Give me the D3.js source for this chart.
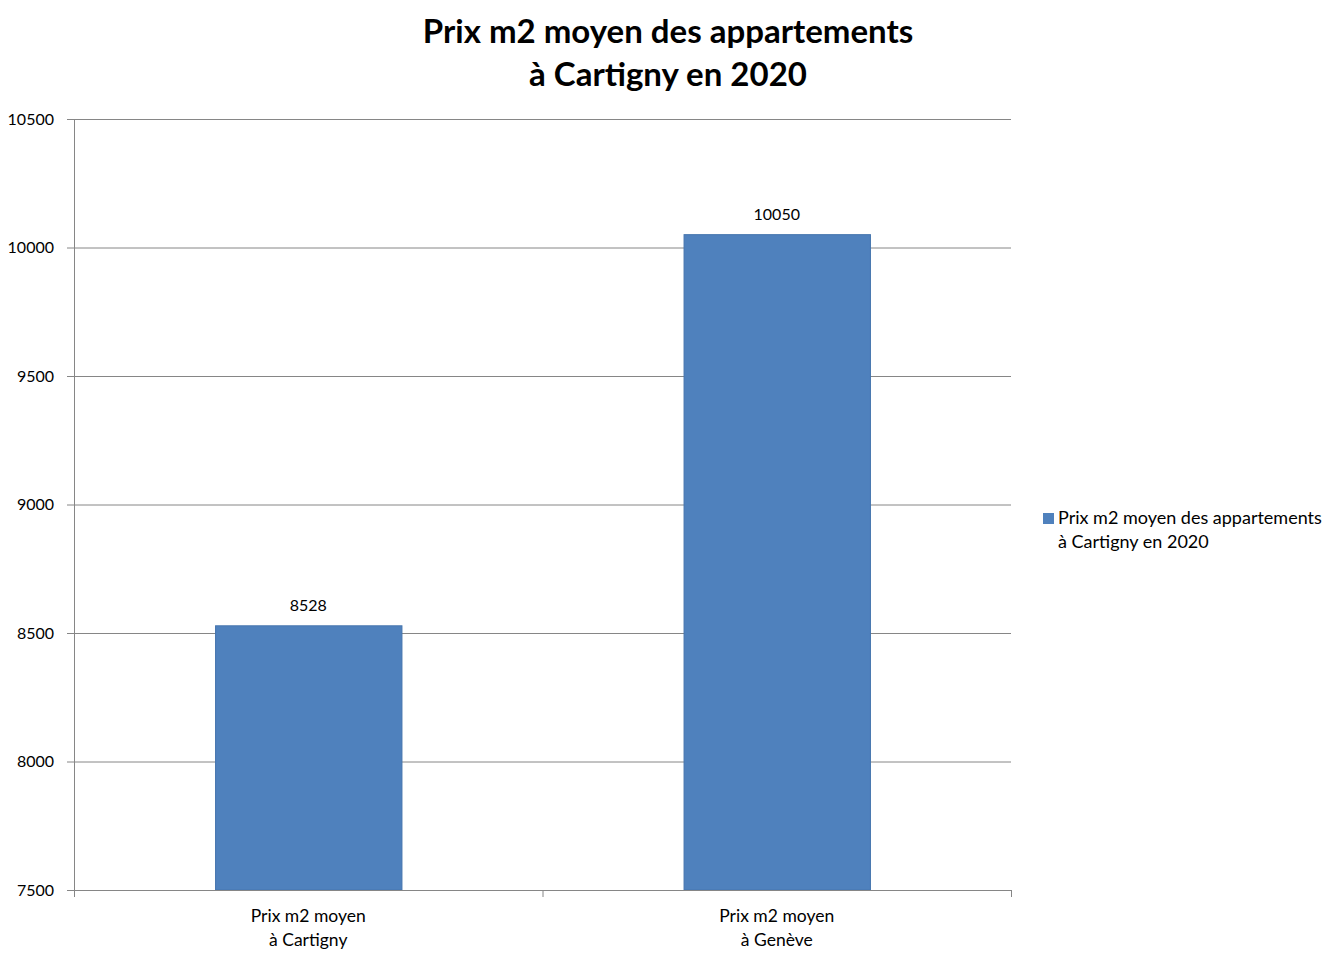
<!DOCTYPE html>
<html><head><meta charset="utf-8">
<script src="https://cdn.jsdelivr.net/npm/d3@7/dist/d3.min.js"></script>
<style>body{margin:0;background:#fff}svg{display:block}text{font-family:Lato,"Open Sans",sans-serif}</style>
</head><body><svg id="c" width="1338" height="961"></svg>
<script>
const categories = [["Prix m2 moyen","à Cartigny"],["Prix m2 moyen","à Genève"]];
const values = [8528, 10050];
const yTicks = [7500, 8000, 8500, 9000, 9500, 10000, 10500];
const titleLines = ["Prix m2 moyen des appartements","à Cartigny en 2020"];
const legendLines = ["Prix m2 moyen des appartements","à Cartigny en 2020"];

const svg = d3.select("#c");
const L=74,R=1011,T=119,B=890;
const x = d3.scaleBand().domain(d3.range(values.length)).range([L,R]).paddingInner(0.6).paddingOuter(0.3);
const y = d3.scaleLinear().domain([7500,10500]).range([B,T]);
const grey="#868686";

svg.append("g").selectAll("line").data(yTicks).join("line")
  .attr("x1",L-7).attr("x2",R).attr("y1",d=>y(d)+0.5).attr("y2",d=>y(d)+0.5)
  .attr("stroke",grey).attr("stroke-width",1);
svg.append("g").selectAll("text").data(yTicks).join("text")
  .attr("x",54).attr("y",d=>y(d)).attr("dy","0.35em").attr("text-anchor","end")
  .attr("font-size",16).attr("fill","#000").text(d=>d);

svg.append("g").selectAll("rect").data(values).join("rect")
  .attr("x",(d,i)=>x(i)+1).attr("width",x.bandwidth()-1).attr("y",d=>y(d)).attr("height",d=>B-y(d))
  .attr("fill","#4F81BD").attr("stroke","#4675AE").attr("stroke-width",1);

svg.append("line").attr("x1",L+0.5).attr("x2",L+0.5).attr("y1",T).attr("y2",B).attr("stroke",grey);
svg.append("line").attr("x1",L).attr("x2",R).attr("y1",B+0.5).attr("y2",B+0.5).attr("stroke",grey);
const step=(R-L)/values.length;
svg.append("g").selectAll("line").data(d3.range(values.length+1)).join("line")
  .attr("x1",i=>L+i*step+0.5).attr("x2",i=>L+i*step+0.5).attr("y1",B).attr("y2",B+7).attr("stroke",grey);

svg.append("g").selectAll("text").data(values).join("text")
  .attr("x",(d,i)=>x(i)+x.bandwidth()/2).attr("y",d=>y(d)-20).attr("dy","0.35em")
  .attr("text-anchor","middle").attr("font-size",16).text(d=>d);

const cat = svg.append("g").selectAll("text").data(categories).join("text")
  .attr("text-anchor","middle").attr("font-size",17.5);
cat.selectAll("tspan").data((d,i)=>d.map(t=>({t,i}))).join("tspan")
  .attr("x",d=>x(d.i)+x.bandwidth()/2).attr("y",(d,j)=>916+j*24).attr("dy","0.35em").text(d=>d.t);

svg.append("g").selectAll("text").data(titleLines).join("text")
  .attr("x",668).attr("y",(d,i)=>31+i*43).attr("dy","0.35em").attr("text-anchor","middle")
  .attr("font-size",33).attr("font-weight","bold").text(d=>d);

svg.append("rect").attr("x",1043).attr("y",513).attr("width",11).attr("height",11).attr("fill","#4F81BD");
svg.append("g").selectAll("text").data(legendLines).join("text")
  .attr("x",1058).attr("y",(d,i)=>518+i*24).attr("dy","0.35em").attr("font-size",18).text(d=>d);
</script></body></html>
